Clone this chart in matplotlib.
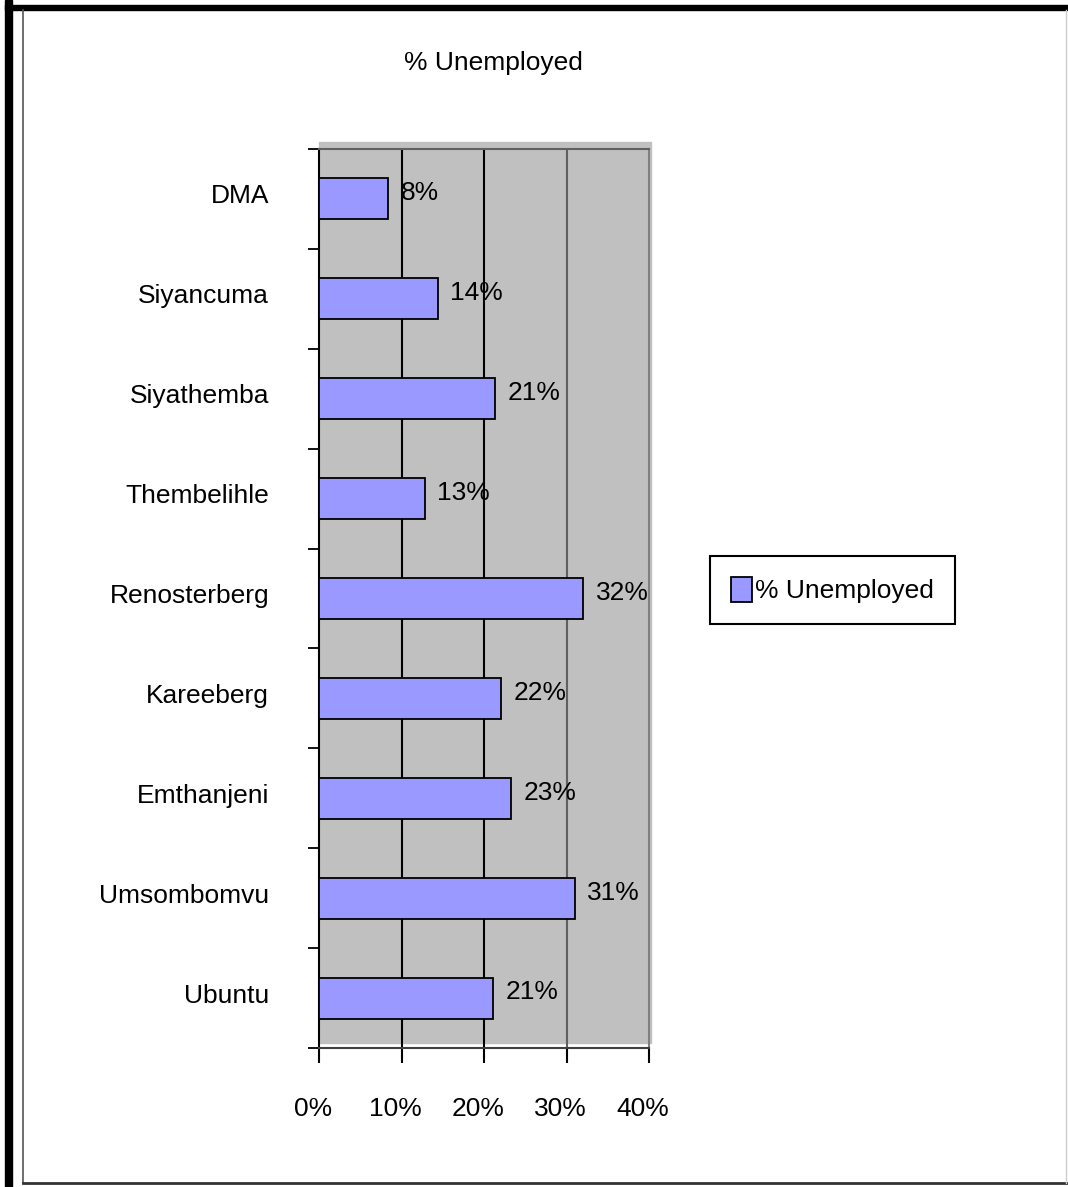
import matplotlib.pyplot as plt
import matplotlib.transforms as mtransforms
from matplotlib.patches import Rectangle
from matplotlib.lines import Line2D

plt.rcParams['font.family'] = ['Liberation Sans', 'DejaVu Sans']

categories = ['DMA', 'Siyancuma', 'Siyathemba', 'Thembelihle', 'Renosterberg',
              'Kareeberg', 'Emthanjeni', 'Umsombomvu', 'Ubuntu']
values = [8.4, 14.4, 21.3, 12.8, 32.0, 22.1, 23.3, 31.0, 21.1]
labels = ['8%', '14%', '21%', '13%', '32%', '22%', '23%', '31%', '21%']
xticks = [0, 10, 20, 30, 40]
xticklabels = ['0%', '10%', '20%', '30%', '40%']

W, H = 1068, 1187
fig = plt.figure(figsize=(W / 100, H / 100), dpi=100)


def fx(x):
    return x / W


def fy(y):
    return 1 - y / H


# page borders
fig.add_artist(Rectangle((fx(5), fy(1187)), fx(7), 1187 / H, color='black',
                         transform=fig.transFigure))
fig.add_artist(Rectangle((fx(5), fy(10)), 1, 5 / H, color='black',
                         transform=fig.transFigure))
fig.add_artist(Line2D([fx(23), fx(23)], [fy(10), fy(1183)], color='#555555', lw=1.2,
                      transform=fig.transFigure))
fig.add_artist(Line2D([fx(23), fx(1068)], [fy(1183), fy(1183)], color='#333333', lw=2,
                      transform=fig.transFigure))
fig.add_artist(Line2D([fx(1066), fx(1066)], [fy(10), fy(1183)], color='#cccccc', lw=1,
                      transform=fig.transFigure))

# grey plot background (slightly offset, like the original)
fig.add_artist(Rectangle((fx(319), fy(1043)), fx(651) - fx(319), fy(142) - fy(1043),
                         color='#c0c0c0', transform=fig.transFigure, zorder=0))

ax = fig.add_axes([fx(319), fy(1048), fx(649) - fx(319), fy(149) - fy(1048)])
ax.set_facecolor('none')
ax.set_zorder(1)

n = len(categories)
ypos = list(range(n))
bars = ax.barh(ypos, values, height=0.41, color='#9999ff', edgecolor='black',
               linewidth=1.3, label='% Unemployed', zorder=3)
ax.set_xlim(0, 40)
ax.set_ylim(n - 0.5, -0.5)

for v, y, lab in zip(values, ypos, labels):
    ax.annotate(lab, (v, y), xytext=(9, 4), textcoords='offset points',
                ha='left', va='center', fontsize=19, zorder=4)

# gridlines
for x, c in zip([10, 20, 30], ['black', 'black', '#606060']):
    ax.axvline(x, color=c, lw=1.5, zorder=1)

for side, c in [('left', 'black'), ('top', '#606060'), ('bottom', '#404040'),
                ('right', '#808080')]:
    ax.spines[side].set_color(c)
    ax.spines[side].set_linewidth(1.5)

# y ticks at category boundaries, labels at centres
ax.set_yticks([i - 0.5 for i in range(n + 1)])
ax.set_yticklabels([])
ax.set_yticks(ypos, minor=True)
ax.set_yticklabels(categories, minor=True, fontsize=19)
ax.tick_params(axis='y', which='major', length=8, width=1.3, color='black')
ax.tick_params(axis='y', which='minor', length=0, pad=36)
for t in ax.get_yticklabels(minor=True):
    t.set_transform(t.get_transform() + mtransforms.ScaledTranslation(0, 5 / 100, fig.dpi_scale_trans))

ax.set_xticks(xticks)
ax.set_xticklabels(xticklabels, fontsize=19)
ax.tick_params(axis='x', length=11, width=1.5, pad=24)
for i, tk in enumerate(ax.xaxis.get_major_ticks()):
    if i >= 3:
        tk.tick1line.set_color('#808080')
for t in ax.get_xticklabels():
    t.set_transform(t.get_transform() + mtransforms.ScaledTranslation(-6 / 100, 0, fig.dpi_scale_trans))

fig.text(fx(493), fy(63), '% Unemployed', ha='center', va='center', fontsize=19)

leg = fig.legend(handles=[bars], labels=['% Unemployed'], loc='upper left',
                 bbox_to_anchor=(fx(710), fy(556)), borderaxespad=0, fontsize=19,
                 fancybox=False, shadow=False, framealpha=1, edgecolor='black',
                 handlelength=0.8, handleheight=1.05, handletextpad=0.1,
                 borderpad=0.8)
leg.get_frame().set_linewidth(1.5)

fig.savefig('out.png', dpi=100)
